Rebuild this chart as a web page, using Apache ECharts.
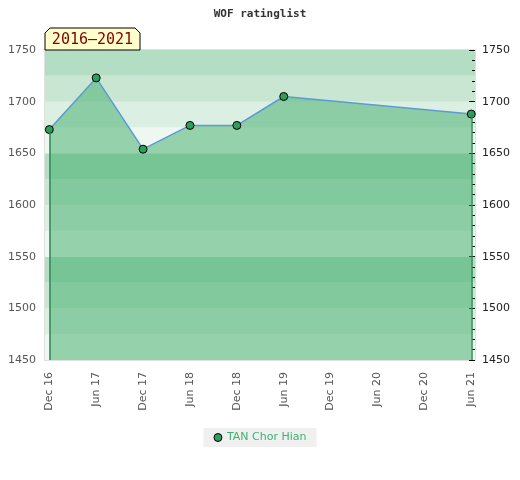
<!DOCTYPE html>
<html>
<head>
<meta charset="utf-8">
<script src="https://cdn.jsdelivr.net/npm/echarts@6/dist/echarts.min.js"></script>
<style>html,body{margin:0;padding:0;background:#fff;}#c{width:520px;height:480px;}</style>
</head>
<body>
<div id="c"></div>
<script>
var titleText = 'WOF ratinglist';
var periodLabel = '2016–2021';
var seriesName = 'TAN Chor Hian';
var categories = ['Dec 16','Jun 17','Dec 17','Jun 18','Dec 18','Jun 19','Dec 19','Jun 20','Dec 20','Jun 21'];
var ratings = [1673, 1723, 1654, 1677, 1677, 1705, null, null, null, 1688];
var yMin = 1450, yMax = 1750;
var bandColors = ['#eef8f1', '#dcefe3', '#c8e6d2', '#b3dec3'];

var points = [];
ratings.forEach(function (v, i) { if (v !== null) points.push([i, v]); });
var first = points[0], last = points[points.length - 1];
var tickIdx = categories.map(function (c, i) { return i; });

var chart = echarts.init(document.getElementById('c'));
chart.setOption({
  animation: false,
  title: {
    text: titleText, left: 'center', top: 4,
    textStyle: { fontFamily: 'DejaVu Sans Mono', fontWeight: 'bold', fontSize: 11, color: '#333' }
  },
  grid: { left: 45, right: 45, top: 50, bottom: 120, show: true, borderColor: '#d6d6d6', borderWidth: 1.5, containLabel: false },
  xAxis: {
    type: 'value', min: -0.092, max: 9.079,
    axisLine: { show: false }, axisTick: { show: false }, splitLine: { show: false },
    axisLabel: {
      customValues: tickIdx, rotate: 90, margin: 12,
      fontFamily: 'DejaVu Sans', fontSize: 11, color: '#555',
      formatter: function (v) { return categories[Math.round(v)] || ''; }
    }
  },
  yAxis: [{
    type: 'value', min: yMin, max: yMax, interval: 25, position: 'left',
    axisLine: { show: false }, axisTick: { show: false }, splitLine: { show: false },
    splitArea: { show: true, areaStyle: { color: bandColors } },
    axisLabel: {
      margin: 9, fontFamily: 'DejaVu Sans', fontSize: 11, color: '#555',
      formatter: function (v) { return v % 50 === 0 ? String(v) : ''; }
    }
  }, {
    type: 'value', min: yMin, max: yMax, interval: 50, position: 'right',
    axisLine: { show: false }, splitLine: { show: false },
    axisTick: { show: true, inside: true, length: 6, lineStyle: { color: '#000' } },
    minorTick: { show: true, splitNumber: 5, length: 3, lineStyle: { color: '#000' } },
    axisLabel: { margin: 7, fontFamily: 'DejaVu Sans', fontSize: 11, color: '#222',
      formatter: function (v) { return String(v); } }
  }],
  legend: {
    bottom: 33, left: 'center', backgroundColor: '#f0f0f0', padding: [4, 10],
    icon: 'circle', itemWidth: 8, itemHeight: 8,
    itemStyle: { borderColor: '#000', borderWidth: 1 },
    textStyle: { fontFamily: 'DejaVu Sans', fontSize: 11, color: '#3cb371' },
    data: [seriesName]
  },
  graphic: [{
    type: 'polygon',
    shape: { points: [[45, 33], [50, 28], [135, 28], [140, 33], [140, 50], [45, 50]] },
    style: { fill: '#ffffcc', stroke: '#000', lineWidth: 1 }, z: 100
  }, {
    type: 'text', x: 92.5, y: 40,
    style: { text: periodLabel, fill: '#800000', font: '15px "DejaVu Sans Mono"', align: 'center', verticalAlign: 'middle' },
    z: 101
  }],
  series: [{
    name: seriesName, type: 'line', data: points,
    symbol: 'circle', symbolSize: 8,
    itemStyle: { color: '#2e9e5a', borderColor: '#000', borderWidth: 1 },
    lineStyle: { color: '#5b9bd5', width: 1.5 },
    areaStyle: { color: 'rgba(60,172,104,0.5)', opacity: 1, origin: 'start' },
    markLine: {
      silent: true, symbol: 'none', label: { show: false },
      lineStyle: { color: '#2e8b57', width: 1.5, type: 'solid' },
      data: [
        [{ coord: [first[0], first[1]] }, { coord: [first[0], yMin] }],
        [{ coord: [last[0], last[1]] }, { coord: [last[0], yMin] }]
      ]
    }
  }]
});
</script>
</body>
</html>
